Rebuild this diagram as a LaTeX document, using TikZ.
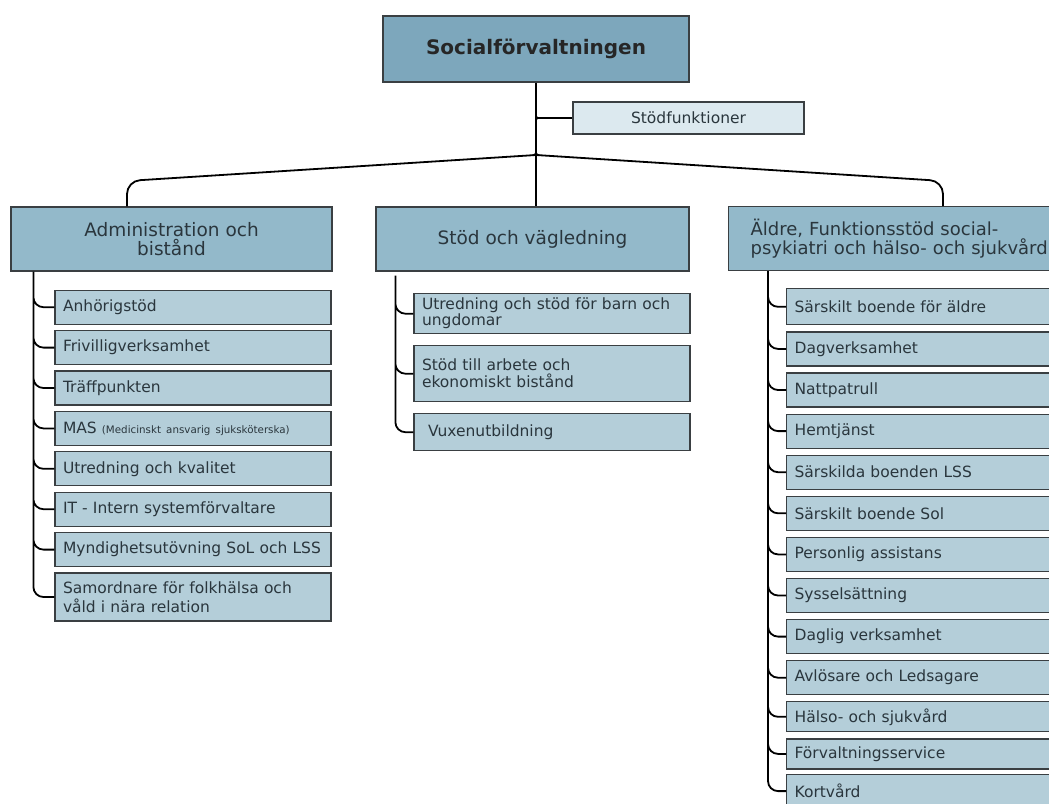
\documentclass[tikz,border=0pt]{standalone}
\usepackage{fontspec}
\setmainfont{DejaVu Sans}
\usepackage{tikz}
\usetikzlibrary{positioning}
\definecolor{sf_hqfill}{HTML}{7DA7BC}
\definecolor{sf_avdfill}{HTML}{93B9CA}
\definecolor{sf_enhfill}{HTML}{B4CED9}
\definecolor{sf_stodfill}{HTML}{DCE9EF}
\definecolor{sf_line}{HTML}{3A3F42}
\definecolor{sf_text}{HTML}{2A363D}
\tikzset{
	treenode/.style = {rectangle, draw=sf_line, line width=1.2pt, inner ysep=0pt,
		text=sf_text},
	sf_hq/.style = {treenode, fill=sf_hqfill, minimum width=306pt, minimum height=66pt,
		font=\fontsize{20}{24}\selectfont\bfseries, text=black!85},% forvaltning
	sf_avd/.style = {treenode, fill=sf_avdfill, minimum height=64pt,
		font=\fontsize{18.5}{19}\selectfont},% avdelning
	sf_enh/.style = {treenode, fill=sf_enhfill, text width=260pt, inner xsep=8pt,
		align=left, minimum height=34pt, font=\fontsize{15.5}{19}\selectfont},% enhet
	sf_stod/.style = {treenode, fill=sf_stodfill, minimum width=231pt,
		minimum height=32pt, font=\fontsize{15.5}{19}\selectfont},% stodfunktion
	conn/.style = {line width=1.8pt, rounded corners=10pt}
}

\begin{document}
\begin{tikzpicture}[x=1pt,y=-1pt]
\path[use as bounding box] (0,0) rectangle (1049,803);
\clip (0,0) rectangle (1049,803);

\node [sf_hq] (hq) at (536,49) {Socialförvaltningen};
\node [sf_stod] (stod) at (688.5,118) {Stödfunktioner};

\node [sf_avd, minimum width=321pt, align=center] (adm) at (171.5,239)
	{Administration och\\bistånd};
\node [sf_avd, minimum width=313pt] (sv) at (532.5,239) {Stöd och vägledning};
\node [sf_avd, anchor=north west, align=left, text width=310pt, inner xsep=22pt,
	font=\fontsize{18}{15}\selectfont] (aldre) at (728,206)
	{Äldre, Funktionsstöd social-\\psykiatri och hälso- och sjukvård};

% administration och bistand
\node [sf_enh, below right=18pt and 44pt of adm.south west] (a1) {Anhörigstöd};
\node [sf_enh, below=5.2pt of a1] (a2) {Frivilligverksamhet};
\node [sf_enh, below=5.2pt of a2] (a3) {Träffpunkten};
\node [sf_enh, below=5.2pt of a3] (a4)
	{MAS {\fontsize{10.3}{12}\selectfont (Medicinskt ansvarig sjuksköterska)}};
\node [sf_enh, below=5.2pt of a4] (a5) {Utredning och kvalitet};
\node [sf_enh, below=5.2pt of a5] (a6) {IT - Intern systemförvaltare};
\node [sf_enh, below=5.2pt of a6] (a7) {Myndighetsutövning SoL och LSS};
\node [sf_enh, below=5.2pt of a7, minimum height=48pt] (a8)
	{Samordnare för folkhälsa och\\våld i nära relation};

% stod och vagledning
\node [sf_enh, below right=21.5pt and 38pt of sv.south west, minimum height=40pt,
	font=\fontsize{15.5}{14.5}\selectfont] (m1)
	{Utredning och stöd för barn och\\ungdomar};
\node [sf_enh, below=10.8pt of m1, minimum height=56pt,
	font=\fontsize{15.5}{17}\selectfont] (m2) {Stöd till arbete och\\ekonomiskt bistånd};
\node [sf_enh, below=10.8pt of m2, minimum height=37pt] (m3) {\hspace*{6pt}Vuxenutbildning};

% aldre och funktionsstod
\node [sf_enh, below right=17pt and 58pt of aldre.south west, minimum height=36pt] (r1)
	{Särskilt boende för äldre};
\node [sf_enh, below=5.9pt of r1] (r2) {Dagverksamhet};
\node [sf_enh, below=5.9pt of r2] (r3) {Nattpatrull};
\node [sf_enh, below=5.9pt of r3] (r4) {Hemtjänst};
\node [sf_enh, below=5.9pt of r4] (r5) {Särskilda boenden LSS};
\node [sf_enh, below=5.9pt of r5] (r6) {Särskilt boende Sol};
\node [sf_enh, below=5.9pt of r6] (r7) {Personlig assistans};
\node [sf_enh, below=5.9pt of r7] (r8) {Sysselsättning};
\node [sf_enh, below=5.9pt of r8] (r9) {Daglig verksamhet};
\node [sf_enh, below=5.9pt of r9] (r10) {Avlösare och Ledsagare};
\node [sf_enh, below=5.9pt of r10, minimum height=30pt] (r11) {Hälso- och sjukvård};
\node [sf_enh, below=5.9pt of r11, minimum height=30pt] (r12) {Förvaltningsservice};
\node [sf_enh, below=4pt of r12] (r13) {Kortvård};

% stam och buss
\coordinate (jct) at (536,155);
\coordinate (bus_l) at (127,181);
\coordinate (bus_r) at (943,181);
\draw [conn] (hq.south) -- (hq.south |- sv.north);
\draw [conn] (hq.south |- stod.west) -- (stod.west);
\draw [conn, rounded corners=13pt] (jct) -- (bus_l) -- (bus_l |- adm.north);
\draw [conn, rounded corners=13pt] (jct) -- (bus_r) -- (bus_r |- aldre.north);
\fill (525,155.8) .. controls (536,155) .. (536,143) -- (jct) -- cycle;
\fill (547,155.8) .. controls (536,155) .. (536,143) -- (jct) -- cycle;
\fill (536,108) .. controls (536,118) .. (546,118) -- (536,118) -- cycle;
\fill (536,128) .. controls (536,118) .. (546,118) -- (536,118) -- cycle;

% grenar
\coordinate (adm_t) at ([xshift=23pt]adm.south west);
\coordinate (sv_t) at ([xshift=20pt,yshift=-4pt]sv.south west);
\coordinate (aldre_t) at ([xshift=40pt]aldre.south west);
\draw [conn] (adm_t) |- (a1.west) (adm_t) |- (a2.west) (adm_t) |- (a3.west)
	(adm_t) |- (a4.west) (adm_t) |- (a5.west) (adm_t) |- (a6.west)
	(adm_t) |- (a7.west) (adm_t) |- (a8.west);
\draw [conn] (sv_t) |- (m1.west) (sv_t) |- (m2.west) (sv_t) |- (m3.west);
\draw [conn] (aldre_t) |- (r1.west) (aldre_t) |- (r2.west) (aldre_t) |- (r3.west)
	(aldre_t) |- (r4.west) (aldre_t) |- (r5.west) (aldre_t) |- (r6.west)
	(aldre_t) |- (r7.west) (aldre_t) |- (r8.west) (aldre_t) |- (r9.west)
	(aldre_t) |- (r10.west) (aldre_t) |- (r11.west) (aldre_t) |- (r12.west)
	(aldre_t) |- (r13.west);
\end{tikzpicture}
\end{document}
